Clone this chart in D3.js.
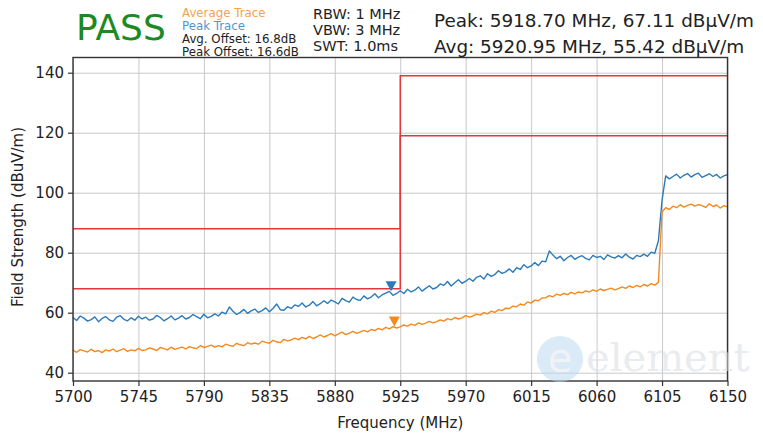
<!DOCTYPE html>
<html>
<head>
<meta charset="utf-8">
<script src="https://cdn.jsdelivr.net/npm/d3@7/dist/d3.min.js"></script>
<style>
  html, body { margin: 0; padding: 0; background: #ffffff; }
  svg { display: block; font-family: "DejaVu Sans", sans-serif; }
</style>
</head>
<body>
<svg id="chart" width="763" height="433"></svg>
<script>
// ---------- data ----------
const freqStart = 5700;
const freqStep = 2.5;

const peakTrace = [
  58.4,57.4,58.9,58.2,57.2,57.7,58.6,57.0,58.1,58.7,
  57.6,57.1,58.5,59.0,57.8,57.3,58.3,57.5,58.8,57.9,
  58.5,57.5,57.9,59.1,58.4,57.3,58.0,58.9,57.6,58.2,
  59.0,57.9,58.4,59.4,58.7,58.0,59.5,58.3,58.8,59.6,
  58.9,60.2,59.6,61.9,60.5,59.4,60.1,61.1,59.8,60.6,
  61.2,60.1,60.7,61.6,60.3,61.4,62.9,61.0,60.8,62.0,
  61.4,62.6,62.1,63.2,61.9,62.5,63.7,62.3,63.0,64.0,
  63.1,64.2,63.6,62.9,64.8,64.0,63.5,65.2,64.4,64.1,
  65.6,64.6,65.2,66.3,65.0,65.9,66.5,67.1,65.8,66.4,
  67.3,66.4,67.8,66.9,67.5,68.6,67.2,68.1,69.0,67.9,
  68.4,69.6,69.1,70.4,68.9,70.0,71.0,69.8,70.5,71.4,
  70.5,71.8,72.3,71.2,73.0,72.1,72.7,74.0,73.1,73.6,
  74.6,73.5,75.0,74.4,76.0,75.0,75.6,76.7,75.7,77.2,
  77.0,80.6,79.2,78.0,78.8,77.3,78.4,79.1,77.8,78.5,
  79.0,78.1,77.6,79.1,78.4,78.8,77.7,79.3,78.6,78.2,
  79.0,78.3,79.6,78.5,77.9,79.1,78.7,79.5,78.8,80.2,
  79.8,84.0,97.5,105.6,104.6,105.4,106.2,104.9,105.8,106.4,
  105.2,106.0,106.5,105.1,105.7,106.3,105.4,106.1,104.9,105.6,106.0
];

const avgTrace = [
  47.5,46.8,47.7,47.3,46.9,47.8,47.0,47.4,46.7,47.6,
  47.2,47.9,47.0,47.5,48.0,47.1,47.6,47.3,48.1,47.4,
  47.6,48.3,47.9,47.4,48.4,48.0,47.6,48.5,47.8,48.2,
  48.5,47.9,48.7,48.3,48.0,49.0,48.4,48.8,49.2,48.5,
  49.0,48.6,49.5,49.1,48.8,49.8,49.3,49.0,50.0,49.5,
  49.9,49.5,50.5,50.1,49.8,50.8,50.3,50.0,51.1,50.6,
  50.9,51.5,51.0,51.8,51.3,52.1,51.4,51.9,52.6,51.9,
  52.4,53.0,52.3,52.9,53.5,52.7,53.2,53.8,53.1,53.6,
  54.1,53.6,54.4,54.0,54.8,54.3,55.1,54.6,55.4,54.9,
  55.3,55.9,55.5,56.2,55.8,56.6,56.1,56.5,57.1,56.6,
  57.0,57.6,57.2,58.0,57.6,58.4,57.9,58.3,59.0,58.5,
  58.9,59.5,59.2,60.0,59.6,60.5,60.1,61.0,60.7,61.5,
  61.4,62.2,62.0,62.9,62.5,63.6,63.2,64.2,64.0,64.9,
  65.0,65.7,65.3,66.2,65.8,66.4,66.0,66.8,66.3,66.9,
  66.6,67.3,66.9,67.6,67.1,67.9,67.4,67.8,68.2,67.6,
  68.0,68.6,68.1,68.9,68.4,69.1,68.6,69.4,68.9,69.7,
  69.2,70.1,93.6,95.0,94.4,95.5,95.0,96.0,95.2,95.8,
  96.2,95.5,96.0,95.7,95.1,96.3,95.4,95.9,94.9,95.7,95.3
];

const peakLimitFreq  = [5700, 5925, 5925, 6150];
const peakLimitLevel = [88, 88, 139, 139];
const avgLimitFreq   = [5700, 5925, 5925, 6150];
const avgLimitLevel  = [68, 68, 119, 119];

const markerFreq  = [5918.70, 5920.95];
const markerLevel = [67.11, 55.42];

const xTicks = [5700, 5745, 5790, 5835, 5880, 5925, 5970, 6015, 6060, 6105, 6150];
const yTicks = [40, 60, 80, 100, 120, 140];

const legendLines = ["Average Trace", "Peak Trace", "Avg. Offset: 16.8dB", "Peak Offset: 16.6dB"];
const settingsLines = ["RBW: 1 MHz", "VBW: 3 MHz", "SWT: 1.0ms"];
const resultLines = ["Peak: 5918.70 MHz, 67.11 dBμV/m", "Avg: 5920.95 MHz, 55.42 dBμV/m"];

// ---------- layout ----------
const svg = d3.select("#chart");
const plot = { left: 73, right: 727.5, top: 57.5, bottom: 381 };

const x = d3.scaleLinear().domain([5700, 6150]).range([plot.left, plot.right]);
const y = d3.scaleLinear().domain([37.23, 145.07]).range([plot.bottom, plot.top]);

const colBlue = "#2b7bba";
const colOrange = "#f5891f";
const colRed = "#e0383c";

// grid
const gridX = svg.append("g")
  .attr("transform", `translate(0,${plot.bottom})`)
  .call(d3.axisBottom(x).tickValues(xTicks).tickSize(-(plot.bottom - plot.top)).tickFormat(""));
const gridY = svg.append("g")
  .attr("transform", `translate(${plot.left},0)`)
  .call(d3.axisLeft(y).tickValues(yTicks).tickSize(-(plot.right - plot.left)).tickFormat(""));
[gridX, gridY].forEach(g => {
  g.select(".domain").remove();
  g.selectAll("line").attr("stroke", "#c9c9c9").attr("stroke-width", 1);
});

// traces
const traceLine = d3.line()
  .x((d, i) => x(freqStart + i * freqStep))
  .y(d => y(d));

svg.append("path").datum(peakTrace)
  .attr("d", traceLine).attr("fill", "none")
  .attr("stroke", colBlue).attr("stroke-width", 1.4).attr("stroke-linejoin", "round");
svg.append("path").datum(avgTrace)
  .attr("d", traceLine).attr("fill", "none")
  .attr("stroke", colOrange).attr("stroke-width", 1.4).attr("stroke-linejoin", "round");

// limit lines
const limLine = d3.line().x(d => x(d[0])).y(d => y(d[1]));
[[peakLimitFreq, peakLimitLevel], [avgLimitFreq, avgLimitLevel]].forEach(([fs, ls]) => {
  svg.append("path").datum(fs.map((f, i) => [f, ls[i]]))
    .attr("d", limLine).attr("fill", "none")
    .attr("stroke", colRed).attr("stroke-width", 1.5);
});

// markers (triangle-down, tip at the value)
const markerCols = [colBlue, colOrange];
markerFreq.forEach((f, i) => {
  const px = x(f), py = y(markerLevel[i]);
  svg.append("path")
    .attr("d", `M${px - 5.5},${py - 10}L${px + 5.5},${py - 10}L${px},${py}Z`)
    .attr("fill", markerCols[i]);
});

// axes
const axX = svg.append("g")
  .attr("transform", `translate(0,${plot.bottom})`)
  .call(d3.axisBottom(x).tickValues(xTicks).tickSize(5).tickPadding(5).tickFormat(d3.format("d")));
const axY = svg.append("g")
  .attr("transform", `translate(${plot.left},0)`)
  .call(d3.axisLeft(y).tickValues(yTicks).tickSize(5).tickPadding(4).tickFormat(d3.format("d")));
[axX, axY].forEach(g => {
  g.select(".domain").remove();
  g.selectAll("line").attr("stroke", "#333").attr("stroke-width", 1.2);
  g.selectAll("text").attr("font-family", "DejaVu Sans").attr("font-size", 15).attr("fill", "#222");
});

// frame
svg.append("rect")
  .attr("x", plot.left).attr("y", plot.top)
  .attr("width", plot.right - plot.left).attr("height", plot.bottom - plot.top)
  .attr("fill", "none").attr("stroke", "#333").attr("stroke-width", 1.4);

// axis titles
svg.append("text")
  .attr("x", (plot.left + plot.right) / 2).attr("y", 428)
  .attr("text-anchor", "middle").attr("font-size", 15).attr("fill", "#222")
  .text("Frequency (MHz)");
svg.append("text")
  .attr("transform", `translate(23,217) rotate(-90)`)
  .attr("text-anchor", "middle").attr("font-size", 15).attr("fill", "#222")
  .text("Field Strength (dBuV/m)");

// watermark
const wm = svg.append("g").attr("opacity", 0.55);
wm.append("circle").attr("cx", 560).attr("cy", 359).attr("r", 23).attr("fill", "#bcd9ef");
wm.append("text").attr("x", 560).attr("y", 372).attr("text-anchor", "middle")
  .attr("font-size", 40).attr("fill", "#e4e8ee").text("e");
wm.append("text").attr("x", 586).attr("y", 371)
  .attr("font-size", 40).attr("font-family", "DejaVu Serif").attr("fill", "#d8dde3").text("element");

// header
svg.append("text").attr("x", 76).attr("y", 40)
  .attr("font-size", 36).attr("fill", "#1c8a22").text("PASS");

const legendCols = ["#f5a24e", "#4f97cf", "#222", "#222"];
const legendY = [16.5, 29.5, 43, 55.5];
legendLines.forEach((t, i) => {
  svg.append("text").attr("x", 182).attr("y", legendY[i])
    .attr("font-size", 11.8).attr("fill", legendCols[i]).text(t);
});

const settingsY = [19, 35, 50.5];
settingsLines.forEach((t, i) => {
  svg.append("text").attr("x", 313).attr("y", settingsY[i])
    .attr("font-size", 14.5).attr("fill", "#222").text(t);
});

const resultY = [26.5, 53];
resultLines.forEach((t, i) => {
  svg.append("text").attr("x", 434).attr("y", resultY[i])
    .attr("font-size", 18.4).attr("fill", "#222").text(t);
});
</script>
</body>
</html>
